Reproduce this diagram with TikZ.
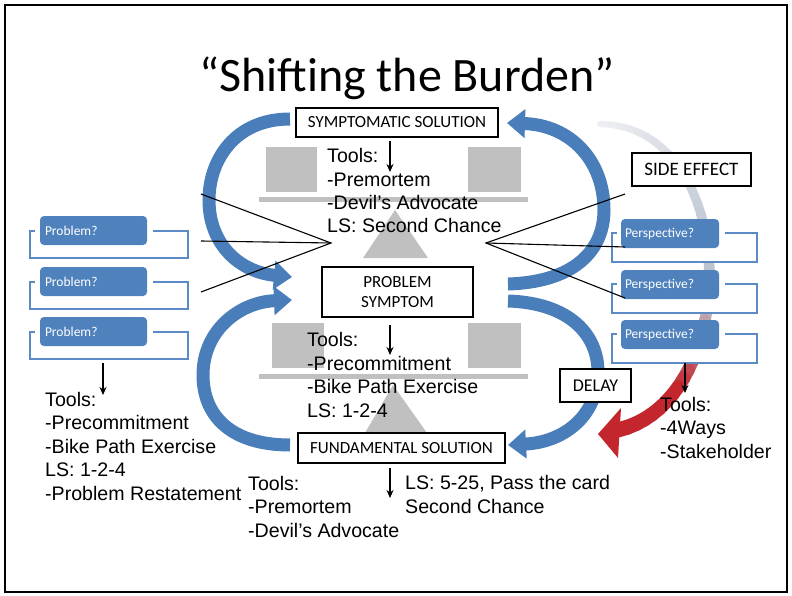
\documentclass[tikz,border=0pt]{standalone}
\usepackage{fontspec}
\newfontfamily\calibri{Carlito}
\newfontfamily\arialf{Liberation Sans}
\usetikzlibrary{arrows.meta}
\definecolor{sablue}{HTML}{4A7EBB}
\definecolor{boxblue}{HTML}{4F81BD}
\definecolor{brkblue}{HTML}{5B8AC4}
\definecolor{lgray}{HTML}{C0C0C0}
\definecolor{arcgray}{HTML}{BCC4D0}
\definecolor{arcred}{HTML}{C4262E}
\newcommand\qbracket[6]{%
  \fill[white] (#1,#3) rectangle (#2,#4);
  \draw[bracket] (#5,#3) -- (#1,#3) -- (#1,#4) -- (#2,#4) -- (#2,#3) -- (#6,#3);
}
\begin{document}
\begin{tikzpicture}[x=1pt,y=-1pt,
  lblbox/.style={draw=black, line width=1.6pt, fill=white, font=\calibri\fontsize{17}{20}\selectfont, align=center, inner sep=0pt},
  tools/.style={font=\arialf\fontsize{19.6}{23.5}\selectfont, align=left, anchor=base west, inner sep=0pt},
  bigarrow/.style={line width=13pt, draw=sablue, -{Triangle[width=28pt,length=18pt]}},
  downarr/.style={line width=1.4pt, -{Stealth[length=8pt,width=7pt]}},
  fan/.style={line width=1.1pt},
  qbox/.style={fill=boxblue, rounded corners=4pt, text=white, font=\calibri\fontsize{13.5}{16}\selectfont, align=left, minimum height=29pt, inner ysep=0pt},
  bracket/.style={draw=brkblue, line width=1.6pt},
  grayshape/.style={fill=lgray}
]
\useasboundingbox (0,0) rectangle (792,596);
\fill[white] (0,0) rectangle (792,596);

% balance shapes
\fill[grayshape] (266,147) rectangle (317,192);
\fill[grayshape] (468,147) rectangle (521,192);
\fill[grayshape] (259,197) rectangle (528,202);
\fill[grayshape] (395,210) -- (428,258) -- (363,258) -- cycle;
\fill[grayshape] (272,323) rectangle (324,368);
\fill[grayshape] (468,323) rectangle (521,368);
\fill[grayshape] (259,374) rectangle (528,379);
\fill[grayshape] (393,385) -- (427,433) -- (365,433) -- cycle;

% gray-to-red arc
\foreach \i in {1,...,40}{
  \pgfmathsetmacro\ta{(\i-1)/40}
  \pgfmathsetmacro\tb{\i/40}
  \pgfmathsetmacro\xa{(1-\ta)*(1-\ta)*(1-\ta)*600+3*(1-\ta)*(1-\ta)*\ta*740+3*(1-\ta)*\ta*\ta*745+\ta*\ta*\ta*618}
  \pgfmathsetmacro\ya{(1-\ta)*(1-\ta)*(1-\ta)*124+3*(1-\ta)*(1-\ta)*\ta*125+3*(1-\ta)*\ta*\ta*400+\ta*\ta*\ta*430}
  \pgfmathsetmacro\xb{(1-\tb)*(1-\tb)*(1-\tb)*600+3*(1-\tb)*(1-\tb)*\tb*740+3*(1-\tb)*\tb*\tb*745+\tb*\tb*\tb*618}
  \pgfmathsetmacro\yb{(1-\tb)*(1-\tb)*(1-\tb)*124+3*(1-\tb)*(1-\tb)*\tb*125+3*(1-\tb)*\tb*\tb*400+\tb*\tb*\tb*430}
  \pgfmathtruncatemacro\pr{max(0,min(100,(\tb-0.6)*450))}
  \pgfmathtruncatemacro\pg{min(100,25+\tb*150)}
  \pgfmathsetmacro\w{6+9*\tb}
  \draw[line width=\w pt, line cap=round, color=arcred!\pr!arcgray!\pg!white] (\xa,\ya) -- (\xb,\yb);
}
\fill[arcred] (598,434) -- (621,408) -- (618,458) -- cycle;

% big blue arrows
\draw[bigarrow] (290,119) .. controls (235,119) and (209,160) .. (209,200) .. controls (209,245) and (240,272) .. (292,277);
\draw[bigarrow] (290,445) .. controls (230,445) and (203,415) .. (203,375) .. controls (203,330) and (240,302) .. (292,300);
\draw[bigarrow] (508,284) .. controls (575,282) and (604,250) .. (604,210) .. controls (604,160) and (570,125) .. (507,123);
\draw[bigarrow] (508,301) .. controls (570,303) and (598,335) .. (598,372) .. controls (598,415) and (565,442) .. (508,445);

% problem brackets and boxes
\qbracket{30}{188}{231}{258}{35}{153}
\qbracket{30}{188}{282}{309}{35}{153}
\qbracket{30}{188}{332}{359}{35}{153}
\node[qbox, inner xsep=5pt, text width=97pt] (pb1) at (93.5,230.5) {Problem?};
\node[qbox, inner xsep=5pt, text width=97pt] (pb2) at (93.5,281.5) {Problem?};
\node[qbox, inner xsep=5pt, text width=97pt] (pb3) at (93.5,331.5) {Problem?};

% perspective brackets and boxes
\qbracket{612}{757}{233}{262}{617}{725}
\qbracket{612}{757}{284}{313}{617}{725}
\qbracket{612}{757}{334}{363}{617}{725}
\node[qbox, inner xsep=4pt, text width=90pt] (pp1) at (670,233.5) {Perspective?};
\node[qbox, inner xsep=4pt, text width=90pt] (pp2) at (670,284.5) {Perspective?};
\node[qbox, inner xsep=4pt, text width=90pt] (pp3) at (670,334.5) {Perspective?};

% label boxes
\node[lblbox, minimum width=202pt, minimum height=29pt] (sym) at (397,122.5) {SYMPTOMATIC SOLUTION};
\node[lblbox, minimum width=151pt, minimum height=50pt] (ps) at (397.5,292) {PROBLEM\\SYMPTOM};
\node[lblbox, minimum width=207pt, minimum height=30pt] (fund) at (401.5,448) {FUNDAMENTAL SOLUTION};
\node[lblbox, minimum width=71pt, minimum height=33pt, font=\calibri\fontsize{18}{20}\selectfont] (delay) at (595.5,385.5) {DELAY};
\node[lblbox, minimum width=119pt, minimum height=33pt, font=\calibri\fontsize{19}{22}\selectfont] (side) at (691.5,169.5) {SIDE EFFECT};

% title
\node[font=\calibri\fontsize{48}{56}\selectfont, anchor=base, inner sep=0pt] (title) at (407,92) {“Shifting the Burden”};

% tools texts (anchored at the baseline of the last line)
\node[tools] (t1) at (327,233) {Tools:\\-Premortem\\-Devil’s Advocate\\LS: Second Chance};
\node[tools] (t2) at (307,417) {Tools:\\-Precommitment\\-Bike Path Exercise\\LS: 1-2-4};
\node[tools] (t3) at (248,537) {Tools:\\-Premortem\\-Devil’s Advocate};
\node[tools] (t4) at (405,513) {LS: 5-25, Pass the card\\Second Chance};
\node[tools] (t5) at (45,500) {Tools:\\-Precommitment\\-Bike Path Exercise\\LS: 1-2-4\\-Problem Restatement};
\node[tools] (t6) at (660,458) {Tools:\\-4Ways\\-Stakeholder};

% down arrows
\coordinate (a1s) at (390,141); \coordinate (a1e) at (390,172);
\coordinate (a2s) at (390,325); \coordinate (a2e) at (390,355);
\coordinate (a3s) at (390,468); \coordinate (a3e) at (390,498);
\coordinate (a4s) at (103,363); \coordinate (a4e) at (103,395);
\coordinate (a5s) at (685,363); \coordinate (a5e) at (685,393);
\draw[downarr] (a1s) -- (a1e);
\draw[downarr] (a2s) -- (a2e);
\draw[downarr] (a3s) -- (a3e);
\draw[downarr] (a4s) -- (a4e);
\draw[downarr] (a5s) -- (a5e);

% fan lines
\coordinate (lc) at (331,243);
\coordinate (l1) at (201,194); \coordinate (l2) at (201,241); \coordinate (l3) at (201,292);
\coordinate (rc) at (486,243);
\coordinate (r1) at (625,194); \coordinate (r2) at (625,247); \coordinate (r3) at (625,298);
\draw[fan] (l1) -- (lc) -- (l3);
\draw[fan] (l2) -- (lc);
\draw[fan] (r1) -- (rc) -- (r3);
\draw[fan] (r2) -- (rc);

% frame
\draw[line width=2pt] (5,5) rectangle (787,592);
\end{tikzpicture}
\end{document}
